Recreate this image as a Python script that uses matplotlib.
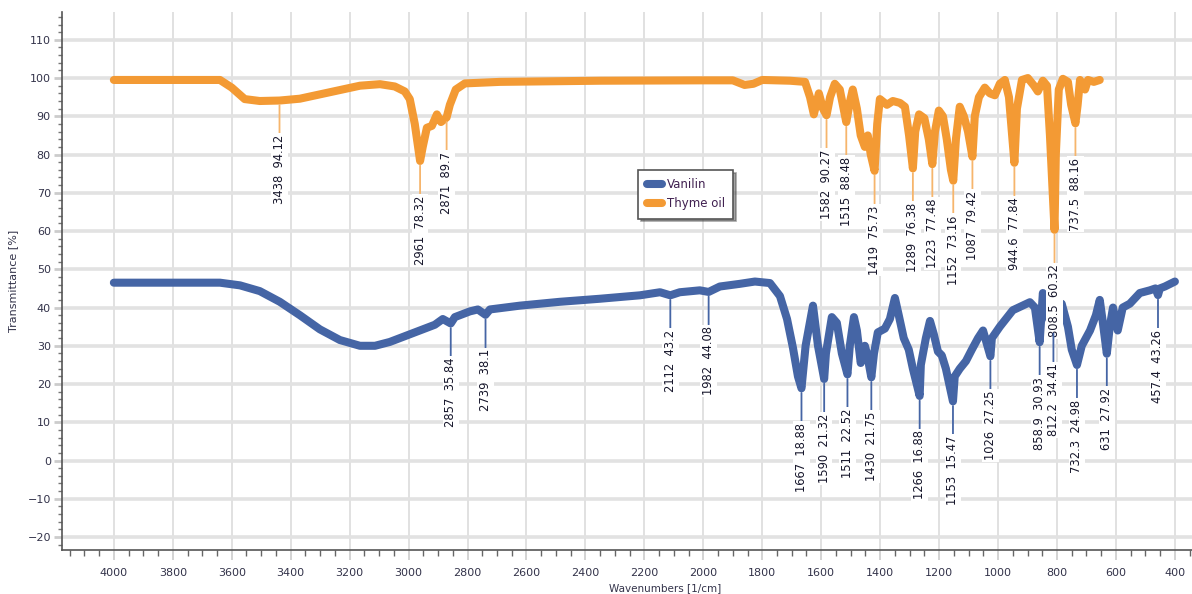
import numpy as np
import matplotlib.pyplot as plt
from matplotlib.ticker import MultipleLocator

# Thyme oil spectrum (wavenumber, transmittance)
thyme_wn = [4000, 3640, 3600, 3556, 3505, 3438, 3369, 3267, 3165, 3097, 3047, 3013, 2996,
            2979, 2961, 2952, 2938, 2921, 2904, 2890, 2871, 2860, 2840, 2809, 2690, 2351,
            2012, 1900, 1860, 1830, 1800, 1706, 1655, 1638, 1625, 1608, 1594, 1582, 1570,
            1554, 1537, 1515, 1502, 1493, 1479, 1466, 1452, 1442, 1432, 1419, 1410, 1401,
            1377, 1357, 1333, 1316, 1302, 1289, 1281, 1268, 1250, 1235, 1223, 1214, 1201,
            1187, 1174, 1160, 1152, 1143, 1130, 1116, 1102, 1087, 1079, 1065, 1045, 1028,
            1011, 994, 977, 963, 944.6, 936, 919, 899, 878, 865, 848, 834, 824, 808.5, 804,
            794, 780, 763, 752, 737.5, 730, 722, 705, 695, 675, 655]
thyme_t = [99.5, 99.5, 97.5, 94.5, 94.0, 94.12, 94.6, 96.3, 98.0, 98.4, 97.8, 96.5, 94.5,
           88.0, 78.32, 82.0, 87.0, 87.5, 90.5, 88.5, 89.7, 93.0, 97.0, 98.6, 99.0, 99.3,
           99.4, 99.4, 98.2, 98.5, 99.5, 99.3, 99.0, 95.0, 90.5, 96.0, 92.0, 90.27, 95.0,
           98.5, 97.0, 88.48, 94.0, 97.0, 92.0, 85.0, 82.0, 85.0, 80.0, 75.73, 88.0, 94.5,
           93.0, 94.0, 93.5, 92.5, 85.0, 76.38, 86.0, 90.5, 89.5, 84.0, 77.48, 86.0, 91.5,
           90.0, 84.0, 76.0, 73.16, 84.0, 92.5, 90.0, 86.0, 79.42, 90.0, 95.0, 97.5, 96.0,
           95.5, 98.5, 99.5, 95.0, 77.84, 92.0, 99.5, 100.0, 98.0, 96.5, 99.3, 98.0, 85.0,
           60.32, 80.0, 97.0, 99.8, 99.0, 93.0, 88.16, 93.0, 99.5, 97.0, 99.5, 99.0, 99.5]

# Vanilin spectrum
van_wn = [4000, 3640, 3572, 3505, 3437, 3369, 3301, 3233, 3165, 3114, 3064, 3013, 2962,
          2911, 2884, 2857, 2843, 2792, 2765, 2739, 2724, 2622, 2487, 2351, 2215, 2147,
          2112, 2080, 2012, 1982, 1944, 1876, 1825, 1774, 1740, 1716, 1696, 1679, 1667,
          1653, 1628, 1611, 1590, 1584, 1564, 1547, 1530, 1511, 1503, 1489, 1479, 1466,
          1452, 1445, 1430, 1421, 1408, 1384, 1367, 1350, 1337, 1320, 1303, 1289, 1266,
          1262, 1245, 1231, 1218, 1204, 1191, 1177, 1153, 1147, 1130, 1109, 1089, 1068,
          1051, 1026, 1021, 994, 950, 892, 875, 858.9, 848, 838, 812.2, 800, 784, 763, 750,
          732.3, 716, 688, 668, 655, 646, 631, 621, 610, 594, 577, 553, 519, 485, 466,
          457.4, 451, 434, 400]
van_t = [46.5, 46.5, 45.8, 44.3, 41.5, 38.0, 34.3, 31.5, 30.0, 30.0, 31.0, 32.5, 34.0,
         35.5, 37.0, 35.84, 37.5, 39.0, 39.5, 38.1, 39.5, 40.5, 41.5, 42.3, 43.2, 44.0,
         43.2, 44.0, 44.5, 44.08, 45.5, 46.2, 46.8, 46.4, 43.0, 37.0, 29.5, 22.0, 18.88,
         30.0, 40.5, 30.0, 21.32, 28.0, 37.5, 36.0, 28.0, 22.52, 30.0, 37.5, 34.0, 25.5,
         30.0, 28.0, 21.75, 28.0, 33.5, 34.5, 37.0, 42.5, 38.0, 32.0, 29.0, 24.0, 16.88,
         25.0, 32.0, 36.5, 33.0, 28.5, 27.5, 24.0, 15.47, 22.0, 24.0, 26.0, 29.0, 32.0,
         34.0, 27.25, 32.0, 35.0, 39.3, 41.4, 40.0, 30.93, 43.8, 39.0, 34.41, 40.0, 41.0,
         35.0, 29.0, 24.98, 30.0, 34.0, 38.0, 42.0, 37.0, 27.92, 35.0, 40.0, 34.0, 40.0,
         41.0, 43.8, 44.5, 45.0, 43.26, 45.0, 45.5, 46.8]

# peak labels
thyme_peaks = [3438, 2961, 2871, 1582, 1515, 1419, 1289, 1223, 1152, 1087, 944.6, 808.5, 737.5]
thyme_peak_t = [94.12, 78.32, 89.7, 90.27, 88.48, 75.73, 76.38, 77.48, 73.16, 79.42, 77.84, 60.32, 88.16]
van_peaks = [2857, 2739, 2112, 1982, 1667, 1590, 1511, 1430, 1266, 1153, 1026, 858.9, 812.2, 732.3, 631, 457.4]
van_peak_t = [35.84, 38.1, 43.2, 44.08, 18.88, 21.32, 22.52, 21.75, 16.88, 15.47, 27.25, 30.93, 34.41, 24.98, 27.92, 43.26]

BLUE = '#4565a5'
ORANGE = '#f39a34'
TXT = '#33334a'

fig = plt.figure(figsize=(11.92, 5.94), dpi=100, facecolor='white')
ax = fig.add_axes([0.052, 0.074, 0.948, 0.906])

ax.plot(van_wn, van_t, color=BLUE, lw=5.8, solid_capstyle='round', solid_joinstyle='round', label='Vanilin', zorder=3)
ax.plot(thyme_wn, thyme_t, color=ORANGE, lw=5.8, solid_capstyle='round', solid_joinstyle='round', label='Thyme oil', zorder=3)


def label_peaks(wns, vals, line_col):
    for wn, v in zip(wns, vals):
        ax.annotate(f"{wn:g}  {v:g}", xy=(wn, v - 1.2), xytext=(wn, v - 9),
                    rotation=90, ha='center', va='top', fontsize=8.3, color='#15152a',
                    bbox=dict(boxstyle='square,pad=0.15', fc='white', ec='none'),
                    arrowprops=dict(arrowstyle='-', color=line_col, lw=1.3, shrinkA=0, shrinkB=0),
                    zorder=5)


label_peaks(thyme_peaks, thyme_peak_t, '#f6b56c')
label_peaks(van_peaks, van_peak_t, BLUE)

ax.set_xlim(4176, 342)
ax.set_ylim(-23.4, 117.3)
ax.xaxis.set_major_locator(MultipleLocator(200))
ax.xaxis.set_minor_locator(MultipleLocator(50))
ax.yaxis.set_major_locator(MultipleLocator(10))
ax.yaxis.set_minor_locator(MultipleLocator(2))

ax.set_axisbelow(True)
ax.yaxis.grid(True, which='major', color='#e2e2e2', lw=2.6)
ax.xaxis.grid(True, which='major', color='#d8d8d8', lw=1.1)

for s in ['top', 'right']:
    ax.spines[s].set_visible(False)
for s in ['left', 'bottom']:
    ax.spines[s].set_color('#555555')
    ax.spines[s].set_linewidth(1.2)

ax.tick_params(axis='x', which='major', length=7, color='#cccccc', width=1.2, pad=6, labelsize=8, labelcolor=TXT)
ax.tick_params(axis='x', which='minor', length=4, color='#666666', width=1)
ax.tick_params(axis='y', which='major', length=6, color='#cccccc', width=2, pad=2, labelsize=8, labelcolor=TXT)
ax.tick_params(axis='y', which='minor', length=3, color='#777777', width=1)

ax.set_xlabel('Wavenumbers [1/cm]', fontsize=7.5, color=TXT)
ax.xaxis.set_label_coords(0.534, -0.062)
ax.set_ylabel('Transmittance [%]', fontsize=8, color=TXT)
ax.yaxis.set_label_coords(-0.039, 0.5)

leg = ax.legend(loc='upper left', bbox_to_anchor=(0.51, 0.706), borderaxespad=0,
                fontsize=8.5, frameon=True, fancybox=False, shadow=True,
                handlelength=1.3, handletextpad=0.4, borderpad=0.7, labelspacing=0.5)
leg.get_frame().set_edgecolor('#555555')
leg.get_frame().set_linewidth(1.2)
for t in leg.get_texts():
    t.set_color('#402050')

fig.savefig('out.png', dpi=100, facecolor='white')
